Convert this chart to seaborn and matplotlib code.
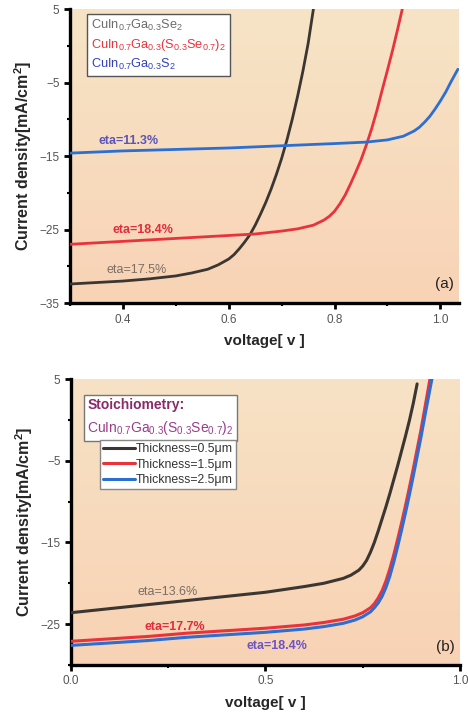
import numpy as np
import pandas as pd
import matplotlib
matplotlib.use("Agg")
import matplotlib.pyplot as plt
import seaborn as sns
from matplotlib.ticker import MultipleLocator
from matplotlib.lines import Line2D
from matplotlib.patches import Patch

# ---------------- data: panel (a) ----------------
a_black_v = [0.30, 0.35, 0.40, 0.45, 0.50, 0.53, 0.56, 0.58, 0.60, 0.61, 0.62, 0.63, 0.64, 0.65,
             0.66, 0.67, 0.68, 0.69, 0.70, 0.71, 0.72, 0.73, 0.74, 0.75, 0.76]
a_black_j = [-32.4, -32.2, -32.0, -31.7, -31.3, -30.9, -30.4, -29.8, -29.0, -28.4, -27.6, -26.7,
             -25.7, -24.4, -22.9, -21.3, -19.5, -17.5, -15.3, -12.8, -10.0, -6.9, -3.5, 0.3, 5.0]
a_red_v = [0.30, 0.40, 0.50, 0.60, 0.65, 0.70, 0.73, 0.76, 0.78, 0.79, 0.80, 0.81, 0.82, 0.83,
           0.84, 0.85, 0.86, 0.87, 0.88, 0.89, 0.90, 0.91, 0.92, 0.928]
a_red_j = [-27.0, -26.6, -26.2, -25.8, -25.6, -25.2, -24.9, -24.4, -23.7, -23.2, -22.5, -21.5,
           -20.3, -18.8, -17.2, -15.5, -13.5, -11.3, -8.8, -6.0, -3.3, -0.5, 2.5, 5.0]
a_blue_v = [0.30, 0.40, 0.50, 0.60, 0.70, 0.80, 0.86, 0.90, 0.93, 0.95, 0.96, 0.97, 0.98, 0.99,
            1.00, 1.01, 1.02, 1.033]
a_blue_j = [-14.6, -14.3, -14.1, -13.9, -13.6, -13.3, -13.1, -12.8, -12.3, -11.6, -11.1, -10.4,
            -9.6, -8.6, -7.5, -6.3, -4.9, -3.2]
a_labels = ["CuIn$_{0.7}$Ga$_{0.3}$Se$_2$",
            "CuIn$_{0.7}$Ga$_{0.3}$(S$_{0.3}$Se$_{0.7}$)$_2$",
            "CuIn$_{0.7}$Ga$_{0.3}$S$_2$"]
a_eta = ["eta=17.5%", "eta=18.4%", "eta=11.3%"]

# ---------------- data: panel (b) ----------------
b_black_v = [0.0, 0.1, 0.2, 0.3, 0.4, 0.5, 0.6, 0.65, 0.70, 0.72, 0.74, 0.75, 0.76, 0.77, 0.78,
             0.79, 0.80, 0.81, 0.82, 0.83, 0.84, 0.85, 0.86, 0.87, 0.88, 0.89]
b_black_j = [-23.6, -23.1, -22.6, -22.1, -21.6, -21.1, -20.4, -20.0, -19.4, -19.0, -18.4, -17.9,
             -17.2, -16.2, -15.0, -13.6, -12.1, -10.6, -9.0, -7.3, -5.6, -3.8, -2.0, -0.1, 2.0, 4.4]
b_red_v = [0.0, 0.1, 0.2, 0.3, 0.4, 0.5, 0.6, 0.65, 0.70, 0.73, 0.75, 0.77, 0.78, 0.79, 0.80,
           0.81, 0.82, 0.83, 0.84, 0.85, 0.86, 0.87, 0.88, 0.89, 0.90, 0.91, 0.923]
b_red_j = [-27.1, -26.8, -26.5, -26.1, -25.8, -25.5, -25.1, -24.8, -24.4, -24.0, -23.6, -23.0,
           -22.5, -21.8, -20.9, -19.7, -18.2, -16.5, -14.6, -12.6, -10.5, -8.3, -6.0, -3.6, -1.2,
           1.5, 5.0]
b_blue_v = [0.0, 0.1, 0.2, 0.3, 0.4, 0.5, 0.6, 0.65, 0.70, 0.73, 0.75, 0.77, 0.78, 0.79, 0.80,
            0.81, 0.82, 0.83, 0.84, 0.85, 0.86, 0.87, 0.88, 0.89, 0.90, 0.91, 0.928]
b_blue_j = [-27.6, -27.3, -27.0, -26.6, -26.3, -26.0, -25.6, -25.3, -24.9, -24.5, -24.1, -23.5,
            -23.0, -22.4, -21.6, -20.5, -19.1, -17.4, -15.5, -13.5, -11.4, -9.2, -6.9, -4.5, -2.1,
            0.5, 5.0]
b_labels = ["Thickness=0.5μm", "Thickness=1.5μm", "Thickness=2.5μm"]
b_eta = ["eta=13.6%", "eta=17.7%", "eta=18.4%"]
b_formula = "CuIn$_{0.7}$Ga$_{0.3}$(S$_{0.3}$Se$_{0.7}$)$_2$"

line_colors = ["#3b3631", "#e8333d", "#2b6fd2"]
eta_colors_a = ["#7a6e66", "#e02d3c", "#5a55b8"]
eta_colors_b = ["#7a6e66", "#e02d3c", "#6a55c8"]

sns.set_style("ticks")
plt.rcParams["font.family"] = ["Liberation Sans", "DejaVu Sans"]
plt.rcParams["mathtext.default"] = "regular"

fig = plt.figure(figsize=(4.68, 7.2), dpi=100)
ax1 = fig.add_axes([0.1496, 0.579, 0.831, 0.4085])
ax2 = fig.add_axes([0.1517, 0.0764, 0.831, 0.3972])


def make_df(vs, js, names):
    rows = []
    for v, j, n in zip(vs, js, names):
        for vv, jj in zip(v, j):
            rows.append((vv, jj, n))
    return pd.DataFrame(rows, columns=["voltage", "J", "series"])


def gradient(ax, top, bottom):
    c1 = np.array(matplotlib.colors.to_rgb(top))
    c2 = np.array(matplotlib.colors.to_rgb(bottom))
    t = np.linspace(0, 1, 256)[:, None]
    img = (c1[None, :] * (1 - t) + c2[None, :] * t)[:, None, :]
    ax.imshow(img, extent=[0, 1, 0, 1], transform=ax.transAxes, aspect="auto",
              zorder=0, origin="upper")


def style_axes(ax):
    for s in ["top", "right"]:
        ax.spines[s].set_visible(False)
    for s in ["left", "bottom"]:
        ax.spines[s].set_linewidth(2.4)
        ax.spines[s].set_color("black")
    ax.tick_params(which="major", direction="out", length=4, width=2, colors="black",
                   labelcolor="#555555", labelsize=8.5)
    ax.tick_params(which="minor", direction="out", length=2.5, width=1.5, colors="black")
    ax.set_ylabel("Current density[mA/cm$^2$]", fontsize=11.5, fontweight="bold", labelpad=4)
    ax.set_xlabel("voltage[ v ]", fontsize=11, fontweight="bold", labelpad=6)
    ax.grid(False)


# ---------------- panel (a) ----------------
dfa = make_df([a_black_v, a_red_v, a_blue_v], [a_black_j, a_red_j, a_blue_j], a_labels)
gradient(ax1, "#f6e4c6", "#f9d3b6")
sns.lineplot(data=dfa, x="voltage", y="J", hue="series", palette=dict(zip(a_labels, line_colors)),
             sort=False, estimator=None, linewidth=2.0, ax=ax1, legend=False, zorder=3)
ax1.set_xlim(0.3, 1.035)
ax1.set_ylim(-35, 5)
ax1.set_yticks([5, -5, -15, -25, -35])
ax1.yaxis.set_minor_locator(MultipleLocator(5))
ax1.set_xticks([0.4, 0.6, 0.8, 1.0])
ax1.xaxis.set_minor_locator(MultipleLocator(0.1))
style_axes(ax1)

handles = [Line2D([], [], color=c) for c in line_colors]
leg = ax1.legend(handles, a_labels, handlelength=0, handletextpad=0, loc="upper left",
                 bbox_to_anchor=(0.044, 0.983), borderaxespad=0, fontsize=9.2,
                 frameon=True, fancybox=False, edgecolor="#555555", framealpha=1,
                 labelspacing=0.3, borderpad=0.3)
leg.get_frame().set_linewidth(1.0)
for t, c in zip(leg.get_texts(), ["#6a6a6a", "#e8333d", "#3040c0"]):
    t.set_color(c)
for h in leg.legend_handles:
    h.set_visible(False)

ax1.text(0.369, -30.5, a_eta[0], color=eta_colors_a[0], fontsize=9, va="center", zorder=4)
ax1.text(0.381, -25.1, a_eta[1], color=eta_colors_a[1], fontsize=9, fontweight="bold", va="center", zorder=4)
ax1.text(0.354, -13.0, a_eta[2], color=eta_colors_a[2], fontsize=9, fontweight="bold", va="center", zorder=4)
ax1.text(0.988, 0.04, "(a)", transform=ax1.transAxes, ha="right", va="bottom", fontsize=11, color="#222222")

# ---------------- panel (b) ----------------
dfb = make_df([b_black_v, b_red_v, b_blue_v], [b_black_j, b_red_j, b_blue_j], b_labels)
gradient(ax2, "#f7e2c5", "#f9d2b4")
sns.lineplot(data=dfb, x="voltage", y="J", hue="series", palette=dict(zip(b_labels, line_colors)),
             sort=False, estimator=None, linewidth=2.2, ax=ax2, legend=False, zorder=3)
ax2.set_xlim(0.0, 1.0)
ax2.set_ylim(-30, 5)
ax2.set_yticks([5, -5, -15, -25])
ax2.yaxis.set_minor_locator(MultipleLocator(5))
ax2.set_xticks([0.0, 0.5, 1.0])
ax2.xaxis.set_minor_locator(MultipleLocator(0.25))
style_axes(ax2)

leg1 = ax2.legend([Patch(alpha=0)], [b_formula], title="Stoichiometry:", handlelength=0,
                  handletextpad=0, loc="upper left", bbox_to_anchor=(0.033, 0.944),
                  borderaxespad=0, fontsize=10, frameon=True, fancybox=False,
                  edgecolor="#777777", framealpha=1, borderpad=0.25, alignment="left",
                  title_fontproperties={"weight": "bold", "size": 10})
leg1.get_frame().set_linewidth(1.0)
leg1.get_title().set_color("#8a2a68")
leg1.get_texts()[0].set_color("#9a3c8c")
ax2.add_artist(leg1)

h2 = [Line2D([], [], color=c, linewidth=2.2) for c in line_colors]
leg2 = ax2.legend(h2, b_labels, loc="upper left", bbox_to_anchor=(0.075, 0.787),
                  borderaxespad=0, fontsize=8.8, frameon=True, fancybox=False,
                  edgecolor="#888888", framealpha=1, handlelength=2.6, handletextpad=0.05,
                  labelspacing=0.3, borderpad=0.25)
leg2.get_frame().set_linewidth(1.0)
for t in leg2.get_texts():
    t.set_color("#333333")

ax2.text(0.172, -21.1, b_eta[0], color=eta_colors_b[0], fontsize=9, va="center", zorder=4)
ax2.text(0.19, -25.4, b_eta[1], color=eta_colors_b[1], fontsize=9, fontweight="bold", va="center", zorder=4)
ax2.text(0.45, -27.7, b_eta[2], color=eta_colors_b[2], fontsize=9, fontweight="bold", va="center", zorder=4)
ax2.text(0.988, 0.04, "(b)", transform=ax2.transAxes, ha="right", va="bottom", fontsize=11, color="#222222")

fig.savefig("out.png", dpi=100)
